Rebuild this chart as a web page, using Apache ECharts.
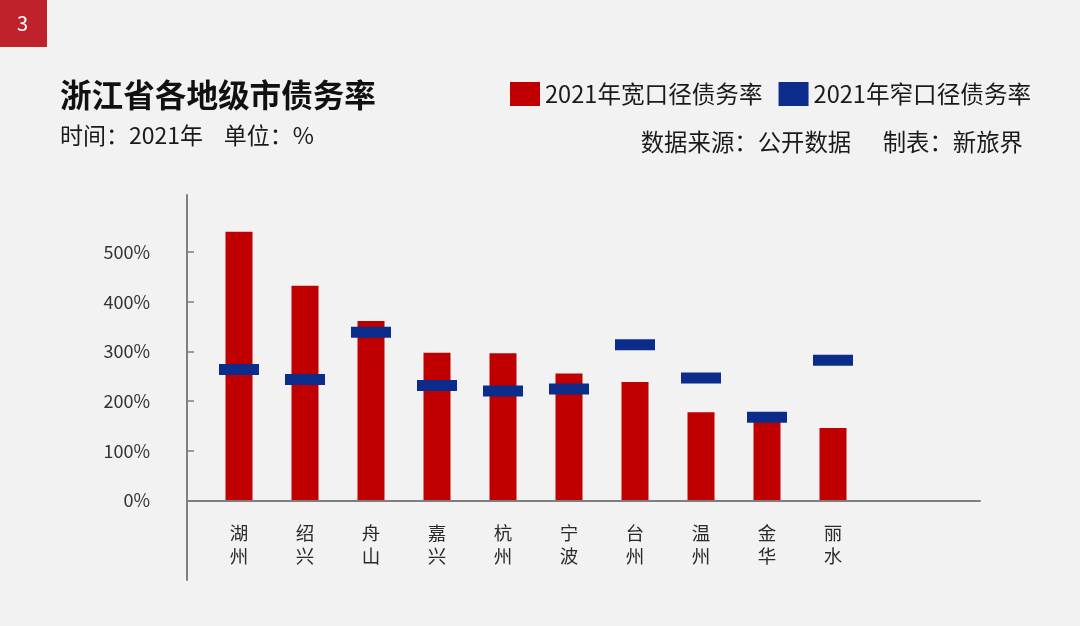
<!DOCTYPE html>
<html>
<head>
<meta charset="utf-8">
<script src="https://cdn.jsdelivr.net/npm/echarts@6/dist/echarts.min.js"></script>
<style>
  html, body { margin: 0; padding: 0; background: #f2f2f2; }
  #chart { width: 1080px; height: 626px; }
</style>
</head>
<body>
<div id="chart"></div>
<script>
const cities = ['湖州', '绍兴', '舟山', '嘉兴', '杭州', '宁波', '台州', '温州', '金华', '丽水'];
const wideRate = [541, 432, 361, 297, 296, 255, 238, 177, 165, 145];
const narrowRate = [263, 243, 338, 231, 220, 224, 313, 246, 167, 282];
const yTicks = [0, 100, 200, 300, 400, 500];

const FONT = '"Noto Sans CJK SC", "Noto Sans", sans-serif';
const chart = echarts.init(document.getElementById('chart'));

// outer axes run below zero so the y axis line hangs under the x axis like the original
const yMin = -160, yMax = 615;

const option = {
  backgroundColor: '#f2f2f2',
  textStyle: { fontFamily: FONT },
  title: [
    { text: '浙江省各地级市债务率', left: 60, top: 79, padding: 0,
      textStyle: { fontSize: 31.6, fontWeight: 'bold', color: '#111', fontFamily: FONT } },
    { text: '时间：2021年    单位：%', left: 60, top: 124, padding: 0,
      textStyle: { fontSize: 23, fontWeight: 'normal', color: '#1a1a1a', fontFamily: FONT } },
    { text: '数据来源：公开数据      制表：新旅界', right: 57, top: 130, padding: 0,
      textStyle: { fontSize: 23.4, fontWeight: 'normal', color: '#1a1a1a', fontFamily: FONT } }
  ],
  legend: {
    left: 510, top: 82, padding: 0,
    icon: 'rect', itemWidth: 30, itemHeight: 24, itemGap: 16,
    textStyle: { fontSize: 23.6, color: '#1a1a1a', fontFamily: FONT },
    data: ['2021年宽口径债务率', '2021年窄口径债务率']
  },
  graphic: [
    { type: 'rect', left: 0, top: 0, shape: { width: 47, height: 47 }, style: { fill: '#c0222b' } },
    { type: 'text', left: 17, top: 13, style: { text: '3', fill: '#fff', fontSize: 20, fontFamily: FONT } }
  ],
  grid: [
    { left: 187, right: 100, top: 195, bottom: 46, outerBoundsMode: 'none', containLabel: false },
    { left: 206, right: 214, top: 195, bottom: 126, outerBoundsMode: 'none', containLabel: false }
  ],
  xAxis: [
    { type: 'category', gridIndex: 0, data: [''],
      axisLine: { onZero: true, lineStyle: { color: '#7f7f7f', width: 2 } },
      axisTick: { show: false }, axisLabel: { show: false } },
    { type: 'category', gridIndex: 1, data: cities,
      axisLine: { show: false }, axisTick: { show: false },
      axisLabel: { margin: 21, fontSize: 18.5, lineHeight: 23, color: '#2a2a2a',
        formatter: v => v.split('').join('\n') } }
  ],
  yAxis: [
    { type: 'value', gridIndex: 0, min: yMin, max: yMax,
      splitLine: { show: false },
      axisLine: { show: true, lineStyle: { color: '#7f7f7f', width: 2 } },
      axisTick: { show: true, inside: true, length: 7, customValues: yTicks,
        lineStyle: { color: '#7f7f7f', width: 1.5 } },
      axisLabel: { customValues: yTicks, margin: 37, fontSize: 18, color: '#333',
        padding: [0, 0, 4, 0], formatter: v => v + '%' } },
    { type: 'value', gridIndex: 1, min: 0, max: yMax,
      splitLine: { show: false }, axisLine: { show: false },
      axisTick: { show: false }, axisLabel: { show: false } }
  ],
  series: [
    { name: '2021年宽口径债务率', type: 'bar', xAxisIndex: 1, yAxisIndex: 1,
      barWidth: 27, itemStyle: { color: '#c00000' }, data: wideRate },
    { name: '2021年窄口径债务率', type: 'scatter', xAxisIndex: 1, yAxisIndex: 1,
      symbol: 'rect', symbolSize: [40, 11], z: 5,
      itemStyle: { color: '#0b2c8a', opacity: 1 }, data: narrowRate }
  ]
};

chart.setOption(option);
</script>
</body>
</html>
